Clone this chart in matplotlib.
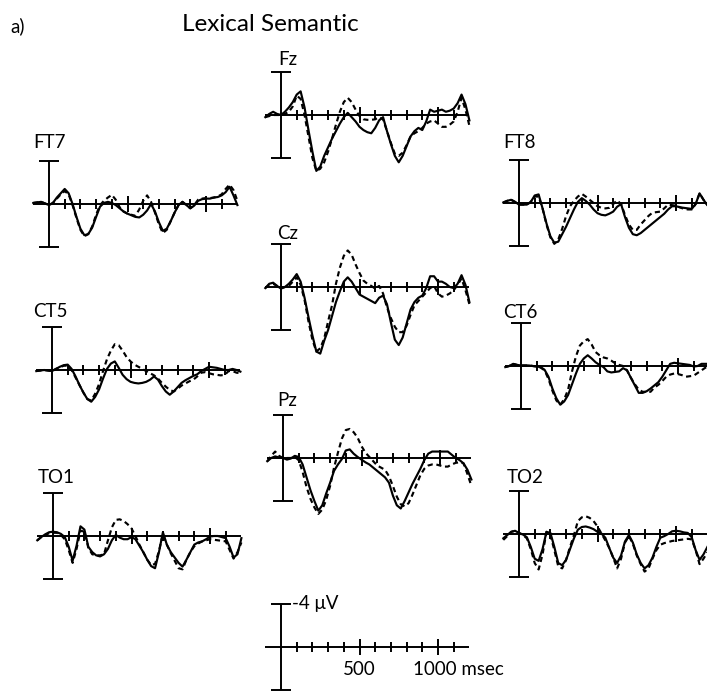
import matplotlib
matplotlib.use("Agg")
import matplotlib.pyplot as plt

plt.rcParams['font.family'] = ['Lato', 'DejaVu Sans']

# ---------------- data (μV, negative plotted upward) ----------------
T_MS = list(range(-100, 1201, 25))

FZ_SOLID = [0.2, -0.1, -0.3, -0.1, 0.0,
            -0.3, -0.7, -1.2, -1.9, -2.2, -0.7, 1.4, 3.4,
            5.2, 4.8, 3.8, 3.0, 2.2, 1.5, 0.8, 0.2,
            -0.2, 0.2, 0.6, 1.1, 1.4, 1.6, 1.7, 1.2,
            0.5, 0.2, 1.5, 2.7, 3.8, 4.4, 3.8, 2.9,
            2.0, 1.5, 1.2, 1.4, 0.6, -0.5, -0.3, -0.4,
            -0.5, -0.3, -0.4, -0.6, -1.1, -1.9, -1.0, 0.5]
FZ_DASH = [0.2, 0.1, 0.0, 0.0, 0.0,
           -0.1, -0.3, -0.8, -1.8, -1.5, 0.0, 2.0, 4.0,
           5.2, 5.0, 4.4, 3.4, 2.2, 0.9, -0.3, -1.2,
           -1.6, -1.2, -0.5, 0.1, 0.4, 0.45, 0.45, 0.4,
           0.2, 0.4, 1.5, 2.6, 3.6, 3.8, 3.5, 2.8,
           2.0, 1.7, 1.5, 1.2, 0.8, 0.6, 0.5, 0.8,
           1.1, 1.1, 0.9, 0.6, -0.3, -1.6, -0.5, 1.0]

CZ_SOLID = [0.1, -0.3, -0.4, -0.1, 0.15,
            0.0, -0.3, -0.7, -1.2, -0.5, 1.0, 2.8, 4.5,
            6.0, 6.2, 5.0, 4.0, 2.7, 1.4, 0.4, -0.5,
            -0.9, -0.5, 0.1, 0.7, 0.9, 1.1, 1.3, 1.5,
            1.0, 0.8, 1.6, 3.3, 4.9, 5.4, 4.7, 3.4,
            2.1, 1.4, 1.0, 0.8, 0.1, -1.0, -1.0, -0.5,
            -0.5, -0.3, 0.0, 0.1, -0.3, -1.1, -0.2, 1.4]
CZ_DASH = [0.1, -0.2, -0.3, -0.1, 0.1,
           0.0, -0.1, -0.5, -0.9, -0.2, 1.2, 3.2, 4.9,
           6.0, 5.7, 4.8, 3.2, 1.7, -0.3, -1.8, -2.9,
           -3.4, -3.0, -2.1, -1.3, -0.6, -0.3, -0.1, 0.15,
           -0.1, 0.6, 1.9, 2.9, 3.7, 4.2, 4.2, 3.6,
           2.6, 1.7, 1.3, 0.9, 0.5, 0.1, -0.1, 0.6,
           0.9, 0.8, 0.6, 0.3, -0.2, -0.8, 0.3, 1.6]

PZ_SOLID = [0.3, 0.0, -0.15, -0.05, 0.0,
            0.15, 0.05, -0.2, -0.1, 0.6, 1.8, 3.0, 4.0,
            4.9, 4.4, 3.3, 2.3, 1.2, 0.6, 0.1, -0.7,
            -0.8, -0.4, -0.1, 0.15, 0.4, 0.6, 0.9, 1.2,
            1.5, 1.8, 2.3, 3.5, 4.4, 4.7, 4.0, 3.2,
            2.4, 1.7, 1.0, 0.2, -0.4, -0.6, -0.6, -0.6,
            -0.6, -0.6, -0.3, 0.0, 0.2, 0.5, 1.1, 2.0]
PZ_DASH = [0.3, -0.2, -0.6, -0.2, 0.0,
           0.0, 0.0, -0.1, 0.2, 1.3, 2.7, 3.8, 4.6,
           5.2, 4.8, 3.9, 2.6, 0.9, -0.5, -1.8, -2.6,
           -2.7, -2.4, -1.9, -1.1, -0.5, -0.1, 0.3, 0.7,
           0.9, 1.1, 1.7, 2.6, 3.6, 4.3, 4.5, 4.2,
           3.4, 2.5, 1.6, 1.0, 0.7, 0.6, 0.6, 0.7,
           0.8, 0.8, 0.6, 0.45, 0.4, 0.5, 1.5, 2.6]

FT7_SOLID = [-0.1, -0.15, -0.2, -0.05, 0.1,
             -0.1, -0.6, -1.0, -1.4, -1.0, 0.0, 1.2, 2.3,
             2.9, 2.8, 2.2, 1.2, 0.25, -0.1, -0.2, -0.1,
             0.1, 0.4, 0.7, 0.9, 1.05, 1.2, 1.25, 1.0,
             0.6, 0.0, 0.7, 1.7, 2.5, 2.3, 1.6, 0.8,
             0.1, -0.2, 0.1, 0.4, 0.15, -0.3, -0.45, -0.5,
             -0.5, -0.6, -0.65, -0.8, -1.1, -1.6, -0.8, 0.1]
FT7_DASH = [-0.1, -0.15, -0.2, -0.05, 0.1,
            -0.1, -0.5, -0.9, -1.2, -0.9, 0.1, 1.3, 2.4,
            3.0, 2.8, 2.1, 1.0, 0.1, -0.3, -0.6, -0.85,
            -0.4, 0.3, 0.7, 0.9, 1.0, 1.1, 0.5, -0.3,
            -0.8, -0.2, 0.8, 1.9, 2.7, 2.4, 1.6, 0.8,
            0.1, -0.2, 0.1, 0.4, 0.1, -0.4, -0.5, -0.55,
            -0.55, -0.6, -0.7, -0.9, -1.4, -1.8, -1.3, -0.3]

FT8_SOLID = [-0.05, -0.2, -0.3, -0.1, 0.15,
             0.15, 0.15, -0.1, -0.7, -0.8, 0.5, 1.9, 3.1,
             3.7, 3.6, 2.9, 2.2, 1.4, 0.6, -0.1, -0.45,
             -0.2, 0.15, 0.6, 0.95, 1.1, 1.15, 1.0, 0.8,
             0.35, 0.1, 1.3, 2.3, 2.9, 3.0, 2.8, 2.5,
             2.2, 1.9, 1.6, 1.3, 1.0, 0.6, 0.3, 0.3,
             0.4, 0.45, 0.5, 0.55, 0.1, -0.9, -0.3, 0.2]
FT8_DASH = [-0.05, -0.2, -0.3, -0.1, 0.15,
            0.15, 0.15, -0.1, -0.6, -0.6, 0.5, 2.0, 3.2,
            3.8, 3.4, 2.4, 1.2, 0.3, -0.2, -0.6, -0.85,
            -0.6, -0.3, 0.0, 0.3, 0.45, 0.5, 0.45, 0.1,
            -0.25, 0.1, 1.1, 2.0, 2.5, 2.5, 2.0, 1.6,
            1.2, 0.9, 0.85, 0.8, 0.5, 0.15, 0.2, 0.25,
            0.4, 0.55, 0.6, 0.6, 0.1, -0.9, -0.3, 0.2]

CT5_SOLID = [0.1, 0.05, 0.0, 0.05, 0.1,
             -0.1, -0.3, -0.45, -0.5, -0.1, 0.6, 1.4, 2.1,
             2.7, 2.95, 2.5, 1.8, 0.8, -0.1, -0.6, -0.8,
             -0.2, 0.45, 0.85, 1.1, 1.2, 1.25, 1.2, 1.1,
             0.9, 0.6, 0.9, 1.5, 2.0, 2.3, 2.0, 1.6,
             1.2, 0.95, 0.75, 0.55, 0.4, 0.1, -0.1, -0.3,
             -0.25, -0.2, -0.1, 0.0, 0.0, -0.1, 0.0, 0.15]
CT5_DASH = [0.1, 0.05, 0.0, 0.05, 0.1,
            -0.1, -0.25, -0.4, -0.4, 0.0, 0.7, 1.4, 2.1,
            2.7, 2.85, 2.2, 1.3, 0.1, -1.0, -1.8, -2.4,
            -2.3, -1.8, -1.2, -0.8, -0.5, -0.3, -0.1, 0.1,
            0.3, 0.5, 0.8, 1.2, 1.55, 1.85, 2.0, 1.75,
            1.45, 1.25, 1.05, 0.9, 0.6, 0.25, 0.2, 0.3,
            0.4, 0.45, 0.5, 0.45, 0.1, 0.1, 0.25, 0.3]

CT6_SOLID = [0.1, 0.0, -0.2, -0.1, -0.05,
             -0.05, -0.05, 0.0, 0.05, 0.1, 0.35, 1.0, 2.1,
             3.0, 3.6, 3.3, 2.7, 1.7, 0.7, -0.2, -0.7,
             -1.0, -0.7, -0.35, -0.1, 0.1, 0.5, 0.6, 0.55,
             0.5, 0.2, 0.4, 1.1, 1.8, 2.5, 2.5, 2.35,
             2.1, 1.8, 1.5, 1.0, 0.4, -0.2, -0.3, -0.25,
             -0.2, -0.15, -0.1, 0.05, 0.0, -0.2, -0.2, -0.2]
CT6_DASH = [0.1, 0.0, -0.2, -0.1, -0.05,
            -0.05, -0.05, 0.0, 0.05, 0.15, 0.4, 1.2, 2.3,
            3.2, 3.6, 3.1, 2.2, 0.5, -0.9, -1.9, -2.3,
            -2.5, -2.0, -1.3, -1.0, -0.8, -0.7, -0.5, -0.25,
            -0.1, 0.0, 0.4, 1.1, 1.7, 2.2, 2.4, 2.4,
            2.4, 2.0, 1.75, 1.4, 1.0, 0.8, 0.7, 0.75,
            0.85, 1.0, 0.95, 0.9, 0.65, 0.4, 0.15, 0.1]

TO1_SOLID = [0.4, 0.1, -0.15, -0.35, -0.4,
             -0.35, -0.2, 0.1, 1.0, 2.3, 0.9, -0.9, -0.6,
             1.0, 1.5, 1.8, 1.9, 1.7, 1.2, 0.4, -0.1,
             0.15, 0.3, 0.3, 0.1, 0.3, 0.9, 1.5, 2.2,
             2.8, 3.0, 1.5, -0.35, 0.8, 1.5, 2.0, 2.5,
             2.85, 2.2, 1.5, 0.8, 0.6, 0.5, 0.3, 0.05,
             0.0, 0.0, 0.1, 0.2, 1.0, 2.0, 1.7, 0.2]
TO1_DASH = [0.4, 0.1, -0.1, -0.25, -0.3,
            -0.3, -0.1, 0.3, 1.3, 2.5, 1.2, -0.5, -0.4,
            1.1, 1.7, 1.8, 1.8, 1.7, 0.4, -0.8, -1.5,
            -1.55, -1.4, -1.1, -0.7, 0.0, 0.8, 1.5, 2.2,
            2.7, 2.6, 1.4, -0.2, 0.8, 1.6, 2.3, 3.0,
            3.1, 2.2, 1.5, 0.95, 0.7, 0.5, 0.4, 0.3,
            0.35, 0.4, 0.45, 0.5, 1.3, 2.1, 1.5, 0.6]

TO2_SOLID = [0.4, 0.1, -0.2, -0.3, -0.1,
             0.05, 0.3, 1.2, 2.3, 2.5, 1.4, -0.2, -0.1,
             1.2, 2.7, 2.9, 2.4, 1.4, 0.4, -0.4, -0.65,
             -0.7, -0.6, -0.45, -0.2, -0.05, 0.35, 1.3, 2.2,
             2.7, 2.0, 0.7, 0.1, 0.8, 1.9, 2.7, 3.2,
             2.9, 2.2, 1.2, 0.35, 0.2, 0.0, -0.25, -0.3,
             -0.25, -0.15, -0.1, 0.3, 1.5, 2.4, 1.9, 1.2]
TO2_DASH = [0.55, 0.2, -0.2, -0.3, -0.1,
            0.1, 0.4, 1.4, 2.7, 3.3, 1.9, -0.2, 0.1,
            1.5, 3.0, 3.2, 2.4, 1.2, 0.1, -1.2, -1.55,
            -1.65, -1.5, -1.2, -0.7, -0.05, 0.6, 1.3, 2.2,
            3.2, 2.3, 0.8, 0.2, 0.9, 2.0, 2.8, 3.5,
            3.2, 2.3, 1.5, 1.0, 0.85, 0.75, 0.65, 0.6,
            0.55, 0.5, 0.45, 0.5, 1.5, 2.8, 2.3, 1.7]

CHANNELS = ["Fz", "FT7", "FT8", "Cz", "CT5", "CT6", "Pz", "TO1", "TO2"]
SOLID = {"Fz": FZ_SOLID, "FT7": FT7_SOLID, "FT8": FT8_SOLID, "Cz": CZ_SOLID,
         "CT5": CT5_SOLID, "CT6": CT6_SOLID, "Pz": PZ_SOLID,
         "TO1": TO1_SOLID, "TO2": TO2_SOLID}
DASHED = {"Fz": FZ_DASH, "FT7": FT7_DASH, "FT8": FT8_DASH, "Cz": CZ_DASH,
          "CT5": CT5_DASH, "CT6": CT6_DASH, "Pz": PZ_DASH,
          "TO1": TO1_DASH, "TO2": TO2_DASH}

SCALE_UV = 4
TICKS_MS = list(range(100, 1101, 100))
LONG_TICKS_MS = [500, 1000]

# ---------------- layout (pixels) ----------------
W, H = 707, 694
PX_MS = 0.157      # pixels per ms
PX_UV = 10.75      # pixels per μV
XL = (-150, 1250)
YL = 6.5
# origin x, baseline y, label dx, label baseline dy
LAYOUT = {
    "Fz":  (281, 115, -3, -50),
    "FT7": (49, 204, -16, -56),
    "FT8": (519, 203, -16, -55),
    "Cz":  (281, 287, -4, -48),
    "CT5": (52, 370, -19, -53),
    "CT6": (521, 366, -18, -48),
    "Pz":  (283, 458, -6, -52),
    "TO1": (53, 536, -15, -53),
    "TO2": (519, 534, -12, -51),
}
SCALE_POS = (281, 647)

LW_AX = 1.4
LW_WAVE = 1.55
LABEL_FS = 13.5

fig = plt.figure(figsize=(W / 100, H / 100), dpi=100)


def make_axes(ox, oy):
    left = ox + XL[0] * PX_MS
    width = (XL[1] - XL[0]) * PX_MS
    height = 2 * YL * PX_UV
    top = oy - YL * PX_UV
    ax = fig.add_axes([left / W, 1 - (top + height) / H, width / W, height / H])
    ax.set_xlim(*XL)
    ax.set_ylim(YL, -YL)
    ax.axis('off')
    ax.patch.set_alpha(0)
    return ax


def draw_frame(ax):
    kw = dict(color='black', lw=LW_AX, solid_capstyle='butt', zorder=2)
    ax.plot([-100, 1200], [0, 0], **kw)
    ax.plot([0, 0], [-SCALE_UV, SCALE_UV], **kw)
    cap = 62
    ax.plot([-cap, cap], [-SCALE_UV, -SCALE_UV], **kw)
    ax.plot([-cap, cap], [SCALE_UV, SCALE_UV], **kw)
    for t in TICKS_MS:
        h = 0.78 if t in LONG_TICKS_MS else 0.42
        ax.plot([t, t], [-h, h], **kw)


for ch in CHANNELS:
    ox, oy, ldx, ldy = LAYOUT[ch]
    ax = make_axes(ox, oy)
    draw_frame(ax)
    ax.plot(T_MS, DASHED[ch], color='black', lw=LW_WAVE,
            linestyle=(0, (2.4, 1.7)), zorder=3)
    ax.plot(T_MS, SOLID[ch], color='black', lw=LW_WAVE, zorder=4,
            solid_joinstyle='round')
    ax.text(ldx / PX_MS, ldy / PX_UV, ch, fontsize=LABEL_FS,
            ha='left', va='baseline')

# scale bar panel
ax = make_axes(*SCALE_POS)
draw_frame(ax)
ax.text(70, -SCALE_UV, "-4 μV", fontsize=LABEL_FS, ha='left', va='center')
ax.text(500, 2.6, "500", fontsize=LABEL_FS, ha='center', va='baseline')
ax.text(841, 2.6, "1000 msec", fontsize=LABEL_FS, ha='left', va='baseline')

fig.text(270.5 / W, 1 - 31 / H, "Lexical Semantic", fontsize=17.5,
         ha='center', va='baseline')
fig.text(10 / W, 1 - 32 / H, "a)", fontsize=13.5, ha='left', va='baseline')

fig.savefig("out.png", dpi=100)
